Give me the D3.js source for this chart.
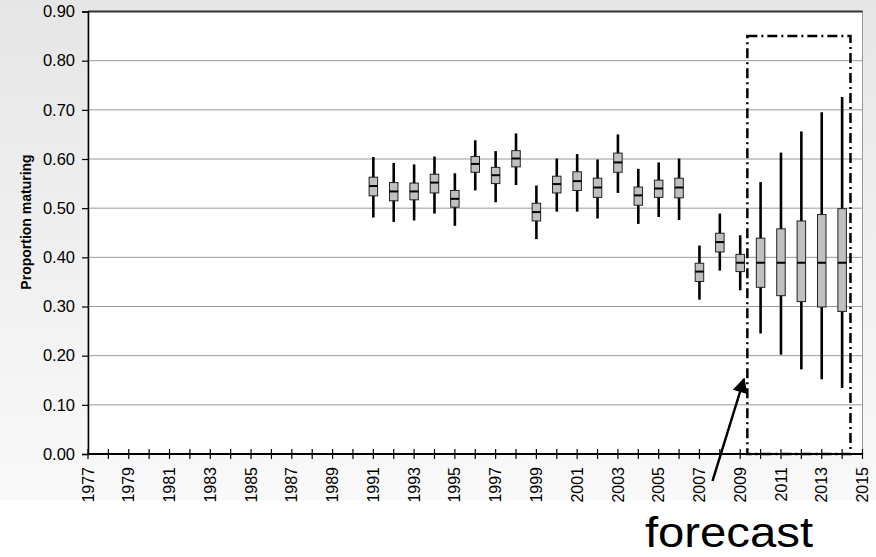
<!DOCTYPE html>
<html>
<head>
<meta charset="utf-8">
<script src="https://cdn.jsdelivr.net/npm/d3@7"></script>
<style>
  body { margin: 0; background: #fff; }
  svg { display: block; font-family: "Liberation Sans", Arial, sans-serif; }
</style>
</head>
<body>
<svg id="chart"></svg>
<script>
(function () {
  const width = 876;
  const height = 557;

  // box plot values
  const years = [1991, 1992, 1993, 1994, 1995, 1996, 1997, 1998, 1999, 2000, 2001, 2002,
                 2003, 2004, 2005, 2006, 2007, 2008, 2009, 2010, 2011, 2012, 2013, 2014];
  const lowWhisker = [0.481, 0.472, 0.475, 0.489, 0.464, 0.536, 0.512, 0.547, 0.437, 0.493, 0.493, 0.479,
                      0.531, 0.468, 0.482, 0.476, 0.314, 0.373, 0.333, 0.245, 0.202, 0.172, 0.152, 0.134];
  const q1 = [0.525, 0.515, 0.517, 0.531, 0.502, 0.573, 0.550, 0.584, 0.474, 0.531, 0.536, 0.522,
              0.573, 0.506, 0.522, 0.521, 0.351, 0.411, 0.371, 0.339, 0.322, 0.310, 0.299, 0.290];
  const median = [0.545, 0.534, 0.534, 0.552, 0.519, 0.590, 0.567, 0.601, 0.492, 0.549, 0.555, 0.542,
                  0.593, 0.526, 0.540, 0.542, 0.371, 0.431, 0.389, 0.389, 0.389, 0.389, 0.389, 0.389];
  const q3 = [0.563, 0.552, 0.551, 0.569, 0.536, 0.605, 0.583, 0.617, 0.510, 0.565, 0.574, 0.561,
              0.612, 0.543, 0.557, 0.561, 0.388, 0.449, 0.406, 0.439, 0.458, 0.474, 0.487, 0.499];
  const highWhisker = [0.604, 0.592, 0.589, 0.605, 0.571, 0.638, 0.616, 0.652, 0.546, 0.601, 0.610, 0.599,
                       0.650, 0.580, 0.593, 0.601, 0.424, 0.489, 0.445, 0.553, 0.613, 0.656, 0.695, 0.726];

  const xTickYears = d3.range(1977, 2016);
  const xLabelYears = d3.range(1977, 2016, 2);
  const yTicks = [0, 0.1, 0.2, 0.3, 0.4, 0.5, 0.6, 0.7, 0.8, 0.9];

  // forecast frame, in data units
  const forecastBox = { x0: 2009.35, x1: 2014.41, y0: 0, y1: 0.85 };

  const data = years.map((yr, i) => ({
    year: yr, lo: lowWhisker[i], q1: q1[i], med: median[i], q3: q3[i], hi: highWhisker[i]
  }));

  const svg = d3.select("#chart")
    .attr("width", width)
    .attr("height", height);

  const defs = svg.append("defs");
  const grad = defs.append("linearGradient")
    .attr("id", "bg")
    .attr("x1", 0).attr("y1", 0).attr("x2", 0).attr("y2", 1);
  grad.append("stop").attr("offset", "0%").attr("stop-color", "#e6e6e6");
  grad.append("stop").attr("offset", "100%").attr("stop-color", "#f9f9f9");

  defs.append("marker")
    .attr("id", "arrow")
    .attr("viewBox", "0 0 10 10")
    .attr("refX", 9).attr("refY", 5)
    .attr("markerWidth", 6.5).attr("markerHeight", 6)
    .attr("markerUnits", "strokeWidth")
    .attr("orient", "auto")
    .append("path")
    .attr("d", "M0,0 L10,5 L0,10 z")
    .attr("fill", "#000");

  svg.append("rect")
    .attr("width", width).attr("height", 500)
    .attr("fill", "url(#bg)");

  const x = d3.scaleLinear().domain([1977, 2015]).range([88, 862.5]);
  const y = d3.scaleLinear().domain([0, 0.9]).range([454, 11.5]);

  // plot area
  svg.append("rect")
    .attr("x", x(1977)).attr("y", y(0.9))
    .attr("width", x(2015) - x(1977)).attr("height", y(0) - y(0.9))
    .attr("fill", "#fff")
    .attr("stroke", "#999");

  // gridlines
  svg.append("g")
    .selectAll("line")
    .data(yTicks.filter(d => d > 0 && d < 0.9))
    .join("line")
    .attr("x1", x(1977)).attr("x2", x(2015))
    .attr("y1", d => y(d)).attr("y2", d => y(d))
    .attr("stroke", "#999")
    .attr("stroke-width", 1);

  svg.append("line")
    .attr("x1", x(1977)).attr("x2", x(2015))
    .attr("y1", y(0.9)).attr("y2", y(0.9))
    .attr("stroke", "#333")
    .attr("stroke-width", 1.8);

  // y axis
  const yAxis = svg.append("g")
    .attr("transform", `translate(${x(1977)},0)`)
    .call(d3.axisLeft(y).tickValues(yTicks).tickFormat(d3.format(".2f")).tickSize(6).tickPadding(7));
  yAxis.select(".domain").attr("stroke", "#000").attr("stroke-width", 1.5);
  yAxis.selectAll(".tick line").attr("stroke", "#000").attr("stroke-width", 1.2);
  yAxis.selectAll("text")
    .attr("font-size", "16.5px")
    .attr("font-family", "Liberation Sans, Arial, sans-serif")
    .attr("fill", "#000");

  // x axis
  const xAxis = svg.append("g").attr("class", "x-axis");
  xAxis.append("line")
    .attr("x1", x(1977)).attr("x2", x(2015))
    .attr("y1", y(0)).attr("y2", y(0))
    .attr("stroke", "#000").attr("stroke-width", 1.8);
  xAxis.selectAll("line.tick")
    .data(xTickYears)
    .join("line")
    .attr("class", "tick")
    .attr("x1", d => x(d)).attr("x2", d => x(d))
    .attr("y1", y(0) - 5).attr("y2", y(0) + 5)
    .attr("stroke", "#000").attr("stroke-width", 1.2);
  xAxis.selectAll("text")
    .data(xLabelYears)
    .join("text")
    .attr("transform", d => `translate(${x(d)},467) rotate(-90)`)
    .attr("text-anchor", "end")
    .attr("dy", "0.35em")
    .attr("font-size", "16px")
    .text(d => d);

  svg.append("text")
    .attr("transform", "translate(31,222) rotate(-90)")
    .attr("text-anchor", "middle")
    .attr("font-size", "14px")
    .attr("font-weight", "bold")
    .text("Proportion maturing");

  // boxes
  const boxW = 8.5;
  const boxes = svg.append("g")
    .selectAll("g")
    .data(data)
    .join("g");

  boxes.append("line")
    .attr("x1", d => x(d.year)).attr("x2", d => x(d.year))
    .attr("y1", d => y(d.lo)).attr("y2", d => y(d.hi))
    .attr("stroke", "#000").attr("stroke-width", 2.6);

  boxes.append("rect")
    .attr("x", d => x(d.year) - boxW / 2)
    .attr("y", d => y(d.q3))
    .attr("width", boxW)
    .attr("height", d => y(d.q1) - y(d.q3))
    .attr("fill", "#c0c0c0")
    .attr("stroke", "#222")
    .attr("stroke-width", 1);

  boxes.append("line")
    .attr("x1", d => x(d.year) - boxW / 2).attr("x2", d => x(d.year) + boxW / 2)
    .attr("y1", d => y(d.med)).attr("y2", d => y(d.med))
    .attr("stroke", "#000").attr("stroke-width", 2);

  // forecast frame
  svg.append("rect")
    .attr("x", x(forecastBox.x0))
    .attr("y", y(forecastBox.y1))
    .attr("width", x(forecastBox.x1) - x(forecastBox.x0))
    .attr("height", y(forecastBox.y0) - y(forecastBox.y1))
    .attr("fill", "none")
    .attr("stroke", "#000")
    .attr("stroke-width", 2.5)
    .attr("stroke-dasharray", "10,4,2,4");

  // arrow + label
  svg.append("line")
    .attr("x1", 712.5).attr("y1", 481)
    .attr("x2", 744).attr("y2", 379)
    .attr("stroke", "#000")
    .attr("stroke-width", 2.5)
    .attr("marker-end", "url(#arrow)");

  svg.append("text")
    .attr("transform", "translate(729,547) scale(1.1,1)")
    .attr("text-anchor", "middle")
    .attr("font-size", "43px")
    .text("forecast");
})();
</script>
</body>
</html>
